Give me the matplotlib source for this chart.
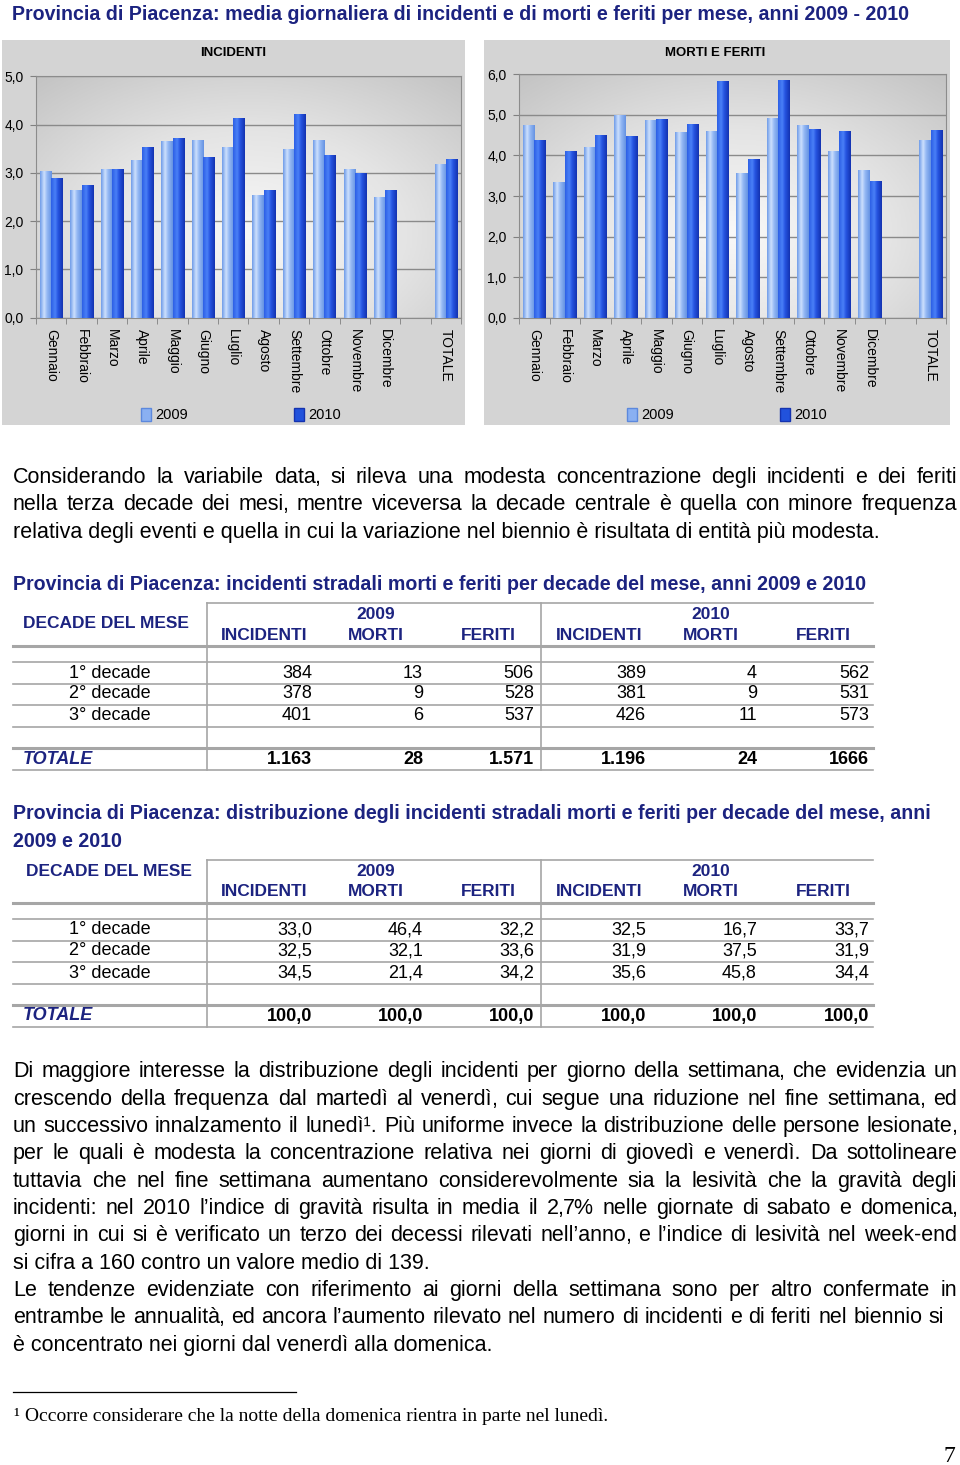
import re
import numpy as np
import matplotlib
matplotlib.use('Agg')
import matplotlib.pyplot as plt
from matplotlib.lines import Line2D
from matplotlib.patches import Rectangle, Patch
from matplotlib.colors import LinearSegmentedColormap
from matplotlib.ticker import FuncFormatter, FixedLocator

# --- dati ---
mesi = ['Gennaio', 'Febbraio', 'Marzo', 'Aprile', 'Maggio', 'Giugno', 'Luglio',
        'Agosto', 'Settembre', 'Ottobre', 'Novembre', 'Dicembre', '', 'TOTALE']
inc_2009 = [3.04, 2.65, 3.09, 3.26, 3.66, 3.68, 3.54, 2.54, 3.49, 3.68, 3.09, 2.49, np.nan, 3.18]
inc_2010 = [2.89, 2.75, 3.09, 3.54, 3.73, 3.33, 4.13, 2.64, 4.21, 3.36, 3.00, 2.64, np.nan, 3.28]
mf_2009 = [4.74, 3.34, 4.22, 4.99, 4.88, 4.57, 4.60, 3.57, 4.92, 4.76, 4.12, 3.65, np.nan, 4.38]
mf_2010 = [4.38, 4.12, 4.50, 4.47, 4.91, 4.78, 5.83, 3.90, 5.87, 4.66, 4.60, 3.36, np.nan, 4.62]

righe = ['1° decade', '2° decade', '3° decade']
colonne = ['INCIDENTI', 'MORTI', 'FERITI', 'INCIDENTI', 'MORTI', 'FERITI']
anni = ['2009', '2010']
tab_valori = [['384', '13', '506', '389', '4', '562'],
              ['378', '9', '528', '381', '9', '531'],
              ['401', '6', '537', '426', '11', '573']]
tab_totale = ['1.163', '28', '1.571', '1.196', '24', '1666']
pct_valori = [['33,0', '46,4', '32,2', '32,5', '16,7', '33,7'],
              ['32,5', '32,1', '33,6', '31,9', '37,5', '31,9'],
              ['34,5', '21,4', '34,2', '35,6', '45,8', '34,4']]
pct_totale = ['100,0', '100,0', '100,0', '100,0', '100,0', '100,0']

titolo = 'Provincia di Piacenza: media giornaliera di incidenti e di morti e feriti per mese, anni 2009 - 2010'
titolo_tab1 = 'Provincia di Piacenza: incidenti stradali morti e feriti per decade del mese, anni 2009 e 2010'
titolo_tab2 = ['Provincia di Piacenza: distribuzione degli incidenti stradali morti e feriti per decade del mese, anni',
               '2009 e 2010']

par1 = [('Considerando la variabile data, si rileva una modesta concentrazione degli incidenti e dei feriti', True),
        ('nella terza decade dei mesi, mentre viceversa la decade centrale è quella con minore frequenza', True),
        ('relativa degli eventi e quella in cui la variazione nel biennio è risultata di entità più modesta.', False)]
par2 = [('Di maggiore interesse la distribuzione degli incidenti per giorno della settimana, che evidenzia un', True),
        ('crescendo della frequenza dal martedì al venerdì, cui segue una riduzione nel fine settimana, ed', True),
        ('un successivo innalzamento il lunedì¹. Più uniforme invece la distribuzione delle persone lesionate,', True),
        ('per le quali è modesta la concentrazione relativa nei giorni di giovedì e venerdì. Da sottolineare', True),
        ('tuttavia che nel fine settimana aumentano considerevolmente sia la lesività che la gravità degli', True),
        ('incidenti: nel 2010 l’indice di gravità risulta in media il 2,7% nelle giornate di sabato e domenica,', True),
        ('giorni in cui si è verificato un terzo dei decessi rilevati nell’anno, e l’indice di lesività nel week-end', True),
        ('si cifra a 160 contro un valore medio di 139.', False),
        ('Le tendenze evidenziate con riferimento ai giorni della settimana sono per altro confermate in', True),
        ('entrambe le annualità, ed ancora l’aumento rilevato nel numero di incidenti e di feriti nel biennio si', 'short'),
        ('è concentrato nei giorni dal venerdì alla domenica.', False)]
nota = 'Occorre considerare che la notte della domenica rientra in parte nel lunedì.'

# --- stile ---
plt.rcParams['font.family'] = ['Liberation Sans', 'DejaVu Sans']
NAVY = '#1c2380'
FS_TESTO = 15.5
FS_TITOLO = 14.1
W, H = 960, 1465


def fx(x):
    return x / W


def fy(y):
    return 1 - y / H


fig = plt.figure(figsize=(W / 100, H / 100), dpi=100)
fig.patch.set_facecolor('white')

# sfondi grigi dei due grafici
for x0, x1 in [(2, 465), (484, 950)]:
    fig.add_artist(Rectangle((fx(x0), fy(425)), fx(x1 - x0), (425 - 40) / H,
                             transform=fig.transFigure, facecolor='#d4d4d4',
                             edgecolor='none', zorder=0))

cm_light = LinearSegmentedColormap.from_list('c09', [(0, '#6f9ce8'), (0.35, '#cde0fd'),
                                                     (0.6, '#94b8f4'), (1, '#6592e2')])
cm_dark = LinearSegmentedColormap.from_list('c10', [(0, '#2c5fe6'), (0.35, '#4a80f7'),
                                                    (0.6, '#2553e0'), (1, '#1433b0')])
cm_bg = LinearSegmentedColormap.from_list('bg', ['#f8f8f8', '#e4e4e4', '#c4c4c4'])


def disegna_grafico(rect, v09, v10, ymax, titolo_graf, tx):
    ax = fig.add_axes(rect)
    x = np.arange(len(mesi))
    w = 0.37
    b1 = ax.bar(x - w / 2, v09, w, color='#8ab0f2', zorder=3)
    b2 = ax.bar(x + w / 2, v10, w, color='#2152dc', zorder=3)
    grad = np.linspace(0, 1, 64).reshape(1, -1)
    for bars, cm in [(b1, cm_light), (b2, cm_dark)]:
        for b in bars:
            h = b.get_height()
            if not np.isfinite(h):
                continue
            im = ax.imshow(grad, extent=[b.get_x(), b.get_x() + b.get_width(), 0, h],
                           cmap=cm, aspect='auto', zorder=3.5, interpolation='bilinear')
            im.set_clip_path(b)
    # sfondo sfumato dell'area del grafico
    yy, xx = np.mgrid[0:1:200j, 0:1:200j]
    r = np.clip(np.sqrt(((xx - 0.5) / 0.75) ** 2 + ((yy - 0.35) / 0.85) ** 2), 0, 1)
    ax.imshow(r, extent=[0, 1, 0, 1], transform=ax.transAxes, origin='lower',
              cmap=cm_bg, aspect='auto', zorder=0)
    ax.set_xlim(-0.5, len(mesi) - 0.5)
    ax.set_ylim(0, ymax)
    ax.set_yticks(np.arange(0, ymax + 0.01, 1))
    ax.yaxis.set_major_formatter(FuncFormatter(lambda v, p: f'{v:.1f}'.replace('.', ',')))
    ax.yaxis.grid(True, color='#8a8a8a', lw=1, zorder=1)
    ax.set_axisbelow(True)
    ax.set_xticks(x)
    ax.set_xticklabels(mesi, rotation=270, fontsize=10, va='top', ha='center')
    ax.xaxis.set_minor_locator(FixedLocator(np.arange(-0.5, len(mesi), 1)))
    ax.tick_params(axis='x', which='major', length=0, pad=8)
    ax.tick_params(axis='x', which='minor', length=4, color='#808080')
    ax.tick_params(axis='y', length=4, color='#808080', labelsize=10, pad=5)
    for s in ax.spines.values():
        s.set_color('#8c8c8c')
    fig.text(fx(tx), fy(53), titolo_graf, fontsize=9.5, fontweight='bold',
             ha='center', va='center')
    handles = [Patch(facecolor='#8ab0f2', edgecolor='#5c88dd', label='2009'),
               Patch(facecolor='#2152dc', edgecolor='#1433b0', label='2010')]
    return ax, handles


ax1, h1 = disegna_grafico([fx(36), fy(317.7), fx(461 - 36), 241.4 / H],
                          inc_2009, inc_2010, 5, 'INCIDENTI', 233)
ax2, h2 = disegna_grafico([fx(519), fy(317.7), fx(946 - 519), 243.4 / H],
                          mf_2009, mf_2010, 6, 'MORTI E FERITI', 715)
for hnd, cx in [(h1, 241), (h2, 727)]:
    fig.legend(handles=hnd, loc='center', bbox_to_anchor=(fx(cx), fy(415)), ncol=2,
               frameon=False, fontsize=10.5, handlelength=0.7, handleheight=1.0,
               handletextpad=0.3, columnspacing=7.2)

# titolo principale
fig.text(fx(12), fy(19.5), titolo, fontsize=FS_TITOLO, fontweight='bold', color=NAVY, va='baseline')

# paragrafi giustificati: ogni parola divisa in pezzi (le virgole a parte)
righe_giust = []


def paragrafo(linee, y0, passo, x0=13, x1=957):
    for i, (testo, giust) in enumerate(linee):
        y = fy(y0 + i * passo)
        if giust:
            parole = []
            for p in testo.split(' '):
                pezzi = [s for s in re.split(r'(,)', p) if s]
                parole.append([fig.text(fx(x0), y, s, fontsize=FS_TESTO, va='baseline') for s in pezzi])
            righe_giust.append((parole, x0, 944 if giust == 'short' else x1))
        else:
            fig.text(fx(x0), y, testo, fontsize=FS_TESTO, va='baseline')


paragrafo(par1, 483, 27.4)
paragrafo(par2, 1077.3, 27.35)

# tabelle


def tabella(y_top, y_anno, y_col, y_dec, linee_y, y_righe, y_tot, valori, totale, x_dec):
    grigio = '#a6a6a6'
    fig.add_artist(Line2D([fx(207), fx(873)], [fy(y_top)] * 2, color=grigio, lw=1.2))
    for k, yl in enumerate(linee_y):
        spess = 2.2 if k in (0, len(linee_y) - 2) else 1.2
        fig.add_artist(Line2D([fx(13), fx(873)], [fy(yl)] * 2, color=grigio, lw=spess))
    for xv in (207, 541):
        fig.add_artist(Line2D([fx(xv)] * 2, [fy(y_top), fy(linee_y[-1])], color=grigio, lw=1.2))
    fig.text(fx(x_dec), fy(y_dec), 'DECADE DEL MESE', fontsize=12.5, fontweight='bold',
             color=NAVY, va='center')
    for anno, cx in zip(anni, (376, 711)):
        fig.text(fx(cx), fy(y_anno), anno, fontsize=12.5, fontweight='bold', color=NAVY,
                 ha='center', va='center')
    for col, cx in zip(colonne, (264, 376, 488, 599, 711, 823)):
        fig.text(fx(cx), fy(y_col), col, fontsize=12.5, fontweight='bold', color=NAVY,
                 ha='center', va='center')
    xr = (312, 423, 534, 646, 757, 869)
    for nome, riga, yr in zip(righe, valori, y_righe):
        fig.text(fx(110), fy(yr), nome, fontsize=13, ha='center', va='center')
        for v, x in zip(riga, xr):
            fig.text(fx(x), fy(yr), v, fontsize=13, ha='right', va='center')
    fig.text(fx(23), fy(y_tot), 'TOTALE', fontsize=13, fontweight='bold', style='italic',
             color=NAVY, va='center')
    for v, x in zip(totale, xr):
        fig.text(fx(x), fy(y_tot), v, fontsize=13, fontweight='bold', ha='right', va='center')


fig.text(fx(13), fy(590), titolo_tab1, fontsize=FS_TITOLO, fontweight='bold', color=NAVY, va='baseline')
tabella(603, 614, 635, 623, [646, 662, 684, 705, 727, 748, 770], [673, 694, 716], 759,
        tab_valori, tab_totale, 23)

fig.text(fx(13), fy(819), titolo_tab2[0], fontsize=FS_TITOLO, fontweight='bold', color=NAVY, va='baseline')
fig.text(fx(13), fy(847), titolo_tab2[1], fontsize=FS_TITOLO, fontweight='bold', color=NAVY, va='baseline')
tabella(860, 871, 891, 871, [903, 919, 941, 962, 984, 1005, 1027], [930, 951, 973], 1016,
        pct_valori, pct_totale, 26)

# nota a piè di pagina
fig.add_artist(Line2D([fx(13), fx(296)], [fy(1392)] * 2, color='black', lw=0.9))
fig.text(fx(13), fy(1421), '¹', fontsize=14, family='Liberation Serif', va='baseline')
fig.text(fx(25), fy(1421), nota, fontsize=14, family='Liberation Serif', va='baseline')
fig.text(fx(955), fy(1462), '7', fontsize=17, family='Liberation Serif', ha='right', va='baseline')

# giustificazione delle righe (la virgola va accostata alla parola)
VIRG = -1.5
fig.canvas.draw()
rend = fig.canvas.get_renderer()
for parole, x0, x1 in righe_giust:
    larg = [[t.get_window_extent(rend).width for t in pz] for pz in parole]
    n_virg = sum(t.get_text() == ',' for pz in parole for t in pz)
    tot = sum(sum(l) for l in larg) + VIRG * n_virg
    spazio = (x1 - x0 - tot) / (len(parole) - 1)
    x = x0
    for pz, lw in zip(parole, larg):
        for t, l in zip(pz, lw):
            if t.get_text() == ',':
                x += VIRG
            t.set_x(fx(x))
            x += l
        x += spazio

fig.savefig('out.png', dpi=100)
